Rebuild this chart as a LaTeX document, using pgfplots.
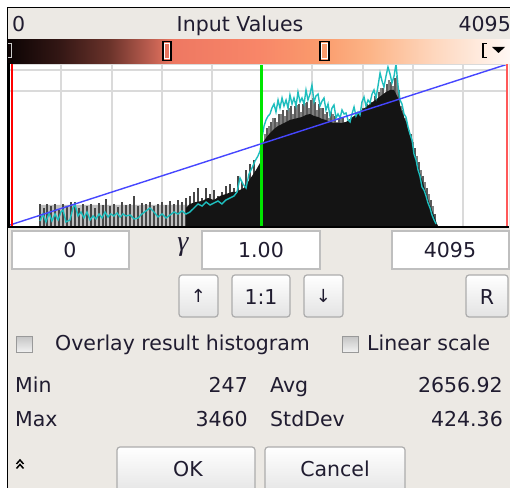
\documentclass[border=0pt]{standalone}
\usepackage{fontspec}
\setmainfont{DejaVu Sans}
\newfontfamily\grk{Liberation Serif}
\usepackage{pgfplots}
\pgfplotsset{compat=1.18}
\definecolor{bg}{RGB}{236,233,228}
\definecolor{txt}{RGB}{32,28,48}
\definecolor{cyanl}{RGB}{30,190,190}
\definecolor{bluel}{RGB}{70,70,255}
\definecolor{greenl}{RGB}{0,230,0}
\definecolor{gridc}{RGB}{218,218,218}
\definecolor{c0}{RGB}{12,4,4}
\definecolor{c1}{RGB}{50,22,20}
\definecolor{c2}{RGB}{105,50,42}
\definecolor{c3}{RGB}{185,92,78}
\definecolor{c4}{RGB}{238,120,98}
\definecolor{c5}{RGB}{248,134,104}
\definecolor{c6}{RGB}{250,155,108}
\definecolor{c7}{RGB}{252,180,135}
\definecolor{c8}{RGB}{254,215,190}
\definecolor{c9}{RGB}{255,248,244}
\pgfdeclarehorizontalshading{lut}{100bp}{color(0bp)=(c0); color(25bp)=(c0); color(30bp)=(c1); color(35bp)=(c2); color(39bp)=(c3); color(41.5bp)=(c4); color(50bp)=(c5); color(56bp)=(c6); color(61bp)=(c7); color(67.5bp)=(c8); color(75bp)=(c9); color(100bp)=(c9)}
\newcommand\ui{\fontsize{20.5bp}{24bp}\selectfont}
\tikzset{lbl/.style={font=\ui, text=txt, inner sep=0pt},
  btn/.style={top color=white, bottom color=gray!22, draw=gray!65, line width=1.2bp, rounded corners=3bp},
  field/.style={fill=white, draw=gray!50, line width=1.5bp},
  chk/.style={top color=gray!45, bottom color=gray!10, draw=gray!80, line width=1.2bp}}
\begin{document}
\begin{tikzpicture}[x=1bp,y=1bp]
\path[use as bounding box] (0,0) rectangle (510,488);
\clip (0,0) rectangle (510,488);
\begin{scope}[yshift=488bp, y=-1bp]
  \fill[white] (0,0) rectangle (510,488);
  \fill[bg] (7,7) rectangle (510,488);
  \draw[black, line width=1.2bp] (7.5,488) -- (7.5,7.5) -- (510,7.5);
  \fill[white] (10,63) rectangle (509,226);
  % title row
  \node[lbl, anchor=base west] at (12,32) {0};
  \node[lbl, anchor=base] at (240,32) {Input Values};
  \node[lbl, anchor=base east] at (511,32) {4095};
  % text fields
  \draw[field] (12,231) rectangle (129,269);
  \node[lbl, anchor=base] at (70,258) {0};
  \node[inner sep=0pt, text=txt, anchor=base] at (183,251) {\fontsize{28bp}{30bp}\selectfont\grk\itshape γ};
  \draw[field] (202,231) rectangle (320,269);
  \node[lbl, anchor=base] at (261,258) {1.00};
  \draw[field] (392,231) rectangle (509,269);
  \node[lbl, anchor=base] at (450,258) {4095};
  % buttons
  \shadedraw[btn] (179,275) rectangle (218,317);
  \node[inner sep=0pt, text=txt, font=\fontsize{18bp}{20bp}\selectfont] at (198.5,296) {↑};
  \shadedraw[btn] (232,275) rectangle (290,317);
  \node[lbl, anchor=base] at (261,305) {1:1};
  \shadedraw[btn] (304,275) rectangle (343,317);
  \node[inner sep=0pt, text=txt, font=\fontsize{18bp}{20bp}\selectfont] at (323.5,296) {↓};
  \shadedraw[btn] (466,275) rectangle (508,317);
  \node[lbl, anchor=base] at (487,305) {R};
  % check boxes
  \shadedraw[chk] (16.5,336.5) rectangle (32.5,352.5);
  \node[lbl, anchor=base west] at (55,351) {Overlay result histogram};
  \shadedraw[chk] (342.5,336.5) rectangle (358.5,352.5);
  \node[lbl, anchor=base west] at (367,351) {Linear scale};
  % statistics
  \node[lbl, anchor=base west] at (15,393) {Min};
  \node[lbl, anchor=base east] at (248,393) {247};
  \node[lbl, anchor=base west] at (270,393) {Avg};
  \node[lbl, anchor=base east] at (503,393) {2656.92};
  \node[lbl, anchor=base west] at (15,427) {Max};
  \node[lbl, anchor=base east] at (248,427) {3460};
  \node[lbl, anchor=base west] at (270,427) {StdDev};
  \node[lbl, anchor=base east] at (503,427) {424.36};
  % bottom row
  \draw[black, line width=1.5bp] (16.5,464) -- (20,460) -- (23.5,464);
  \draw[black, line width=1.5bp] (16.5,468.5) -- (20,464.5) -- (23.5,468.5);
  \shadedraw[btn] (117,447) rectangle (255,496);
  \node[lbl, anchor=base] at (188,477) {OK};
  \shadedraw[btn] (265,447) rectangle (405,496);
  \node[lbl, anchor=base] at (335,477) {Cancel};
\end{scope}
\begin{axis}[at={(10bp,262bp)}, anchor=south west, scale only axis,
  width=498bp, height=162bp, xmin=0, xmax=4095, ymin=0, ymax=162,
  hide axis, clip=true]
% grid lines
\addplot[ycomb, gridc, line width=1.3bp, mark=none] coordinates {(419,162)(839,162)(1250,162)(1661,162)(2483,162)(2903,162)(3314,162)(3725,162)};
\addplot[gridc, line width=1.3bp, mark=none] coordinates {(0,135)(4095,135)};
\addplot[gridc, line width=1.3bp, mark=none] coordinates {(0,156)(4095,156)};
% sparse low band
\addplot[fill=gray!50, draw=none] coordinates {(247,0)(247,21)(1480,21)(1480,0)} \closedcycle;
\addplot[ycomb, black!72, line width=1.2bp, mark=none] coordinates {
(247,22)(280,18)(304,22)(337,20)(370,22)(403,16)(436,22)(469,20)(502,24)(534,24)(567,18)(600,22)(633,20)(666,22)(699,18)(732,23)(765,21)(789,27)(822,20)(855,22)(888,19)(921,24)(954,21)(987,22)(1020,30)(1053,20)(1085,23)(1118,22)(1151,24)(1184,20)(1217,22)(1250,24)(1283,21)(1316,25)(1349,22)(1381,26)(1414,24)(1447,28)(1480,30)(1513,34)(1546,38)(1579,28)(1612,38)(1645,32)(1677,36)(1710,30)(1743,34)(1776,40)(1809,42)(1842,38)(1875,50)(1908,44)(1941,56)(1974,62)(2006,66)};
\addplot[ycomb, black!50, line width=1.4bp, mark=none] coordinates {
(2097,92)(2130,100)(2163,108)(2196,104)(2228,112)(2261,110)(2294,118)(2327,112)(2360,121)(2393,114)(2426,123)(2459,118)(2492,128)(2524,116)(2557,118)(2590,112)(2623,108)(2656,112)(2689,104)(2722,108)(2755,104)(2788,100)(2820,108)(2853,104)(2886,114)(2919,118)(2952,120)(2985,124)(3018,126)(3051,138)(3084,132)(3117,146)(3149,140)(3182,150)(3215,120)(3248,108)(3281,96)(3314,84)(3347,70)(3380,56)(3413,44)(3445,32)(3478,20)};
\addplot[ycomb, black!65, line width=1.4bp, mark=none] coordinates {
(2113,98)(2146,104)(2179,108)(2212,112)(2245,116)(2278,116)(2311,120)(2344,120)(2376,122)(2409,122)(2442,124)(2475,126)(2508,124)(2541,122)(2574,118)(2607,114)(2640,114)(2672,110)(2705,108)(2738,108)(2771,104)(2804,106)(2837,110)(2870,112)(2902,118)(2935,122)(2968,124)(3001,130)(3034,134)(3067,138)(3100,142)(3133,144)(3166,148)(3198,136)(3231,116)(3264,104)(3297,92)(3330,78)(3363,64)(3396,50)(3429,38)(3462,26)(3494,12)};
% main histogram mass
\addplot[fill=black!92, draw=none] coordinates {
(1447,0)(1447,18)(1480,22)(1529,24)(1579,25)(1628,28)(1677,26)(1727,30)(1776,32)(1826,34)(1858,34)(1891,36)(1924,38)(1957,44)(1990,50)(2023,56)(2056,63)(2072,82)(2105,88)(2138,93)(2171,97)(2204,100)(2237,102)(2270,104)(2302,106)(2335,107)(2368,108)(2401,109)(2434,111)(2467,112)(2500,110)(2533,109)(2566,107)(2598,106)(2631,104)(2664,103)(2697,103)(2730,103)(2763,104)(2796,107)(2829,110)(2862,113)(2894,116)(2927,119)(2960,122)(2993,125)(3026,128)(3059,131)(3092,134)(3125,136)(3158,136)(3191,128)(3223,114)(3256,104)(3289,90)(3322,76)(3355,60)(3388,46)(3421,33)(3454,21)(3487,10)(3511,2)(3520,0)} \closedcycle;
% cyan envelope
\addplot[cyanl, line width=1.4bp, mark=none] coordinates {
(247,5)(271,12)(296,4)(321,13)(345,5)(370,12)(395,6)(419,14)(436,16)(460,4)(493,6)(518,18)(534,22)(559,10)(584,14)(608,8)(633,14)(658,6)(683,10)(707,7)(732,12)(757,8)(781,14)(806,9)(830,12)(855,10)(880,13)(905,9)(929,12)(954,10)(987,11)(1020,7)(1053,8)(1085,12)(1118,15)(1151,18)(1184,14)(1217,9)(1250,12)(1283,8)(1316,11)(1349,14)(1381,12)(1414,15)(1447,12)(1480,14)(1513,18)(1546,22)(1579,20)(1612,24)(1645,21)(1677,23)(1710,25)(1743,22)(1776,26)(1809,28)(1842,30)(1867,34)(1891,48)(1916,42)(1941,38)(1965,52)(1990,58)(2015,65)(2039,70)(2056,75)(2072,88)(2089,100)(2105,106)(2122,110)(2138,112)(2154,118)(2171,122)(2187,114)(2204,126)(2220,118)(2237,128)(2253,120)(2270,126)(2286,118)(2302,131)(2319,122)(2335,128)(2352,120)(2368,134)(2385,124)(2401,128)(2418,122)(2434,136)(2450,126)(2467,132)(2483,141)(2500,124)(2516,130)(2533,132)(2549,120)(2566,125)(2582,128)(2598,116)(2615,122)(2631,110)(2648,118)(2664,121)(2681,108)(2697,112)(2714,108)(2730,116)(2747,112)(2763,113)(2779,106)(2796,104)(2812,112)(2829,119)(2845,110)(2862,114)(2878,111)(2894,124)(2911,129)(2927,120)(2944,126)(2960,123)(2977,132)(2993,136)(3010,128)(3026,140)(3043,153)(3059,145)(3075,139)(3092,150)(3108,159)(3125,152)(3141,143)(3158,150)(3174,162)(3191,140)(3207,126)(3223,122)(3240,112)(3256,109)(3273,99)(3289,92)(3306,86)(3322,72)(3339,66)(3355,56)(3371,50)(3388,39)(3404,36)(3421,30)(3437,23)(3454,18)(3470,11)(3487,6)(3503,2)};
% green marker
\addplot[greenl, line width=3bp, mark=none] coordinates {(2066,0)(2066,162)};
% transfer line
\addplot[bluel, line width=1.4bp, mark=none] coordinates {(0,1)(4095,162)};
% min / max markers
\addplot[red, line width=2bp, mark=none] coordinates {(14,0)(14,162)};
\addplot[red!65, line width=1.5bp, mark=none] coordinates {(4086,0)(4086,162)};
\end{axis}
\begin{scope}[yshift=488bp, y=-1bp]
  % strip under the colour bar
  \fill[gridc] (13,63.5) rectangle (506,65.2);
  % colour bar
  \shade[shading=lut] (8,40) rectangle (510,63.8);
  \draw[black, line width=1.3bp, fill=c4!90!c3] (163,41.5) rectangle (171,60.5);
  \draw[white, line width=1bp] (164.6,43.1) rectangle (169.4,58.9);
  \draw[black, line width=1.3bp, fill=c6] (320,41.5) rectangle (329,60.5);
  \draw[white, line width=1bp] (321.6,43.1) rectangle (327.4,58.9);
  \draw[white!80!black, line width=1.3bp] (8,43.5) -- (11.5,43.5) -- (11.5,57.5) -- (8,57.5);
  \draw[black, line width=1.4bp] (486.5,43.5) -- (483,43.5) -- (483,57.5) -- (486.5,57.5);
  \fill[black] (492,47) -- (505,47) -- (498.5,53) -- cycle;
  % plot frame
  \fill[black] (7,63) rectangle (10,228);
  \fill[black] (7,226) rectangle (509,228.5);
\end{scope}
\end{tikzpicture}
\end{document}
